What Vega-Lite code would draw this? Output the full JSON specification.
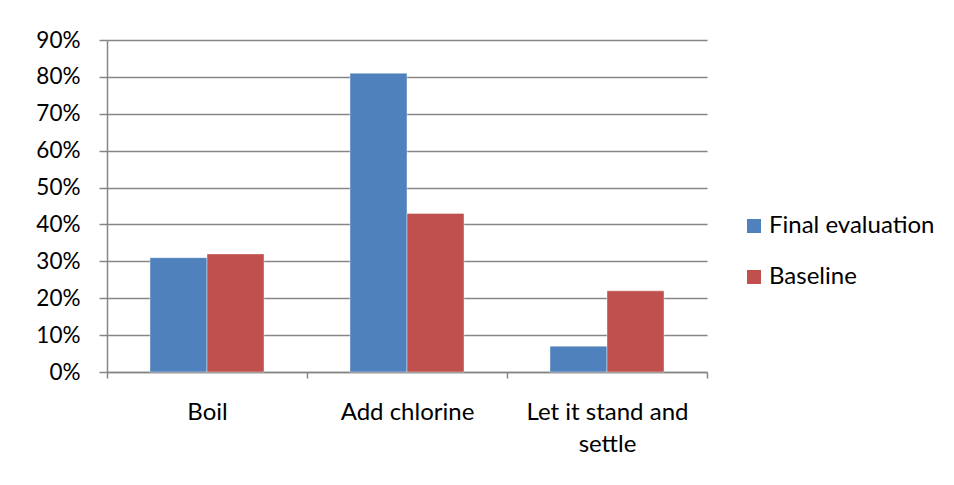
{
  "$schema": "https://vega.github.io/schema/vega-lite/v6.json",
  "width": 600,
  "height": 332,
  "autosize": {"type": "none"},
  "padding": {"left": 107, "top": 40, "right": 247, "bottom": 113},
  "background": "white",
  "data": {
    "values": [
      {"method": "Boil", "series": "Final evaluation", "share": 0.31},
      {"method": "Boil", "series": "Baseline", "share": 0.32},
      {"method": "Add chlorine", "series": "Final evaluation", "share": 0.81},
      {"method": "Add chlorine", "series": "Baseline", "share": 0.43},
      {"method": "Let it stand and settle", "series": "Final evaluation", "share": 0.07},
      {"method": "Let it stand and settle", "series": "Baseline", "share": 0.22}
    ]
  },
  "mark": {"type": "bar", "stroke": "#ffffff", "strokeOpacity": 0.5, "strokeWidth": 0.8},
  "encoding": {
    "x": {
      "field": "method",
      "type": "nominal",
      "sort": null,
      "title": null,
      "scale": {"paddingInner": 0, "paddingOuter": 0},
      "axis": {
        "labelAngle": 0,
        "labelFontSize": 24,
        "tickBand": "extent",
        "tickSize": 6,
        "labelPadding": 22,
        "labelLineHeight": 32,
        "labelExpr": "datum.label == 'Let it stand and settle' ? ['Let it stand and', 'settle'] : datum.label"
      }
    },
    "xOffset": {
      "field": "series",
      "type": "nominal",
      "sort": ["Final evaluation", "Baseline"],
      "scale": {"paddingInner": 0, "paddingOuter": 0.754}
    },
    "y": {
      "field": "share",
      "type": "quantitative",
      "title": null,
      "scale": {"domain": [0, 0.9], "nice": false},
      "axis": {
        "format": ".0%",
        "labelFontSize": 22.5,
        "values": [0, 0.1, 0.2, 0.3, 0.4, 0.5, 0.6, 0.7, 0.8, 0.9],
        "tickSize": 8,
        "labelPadding": 19,
        "grid": true
      }
    },
    "color": {
      "field": "series",
      "type": "nominal",
      "sort": ["Final evaluation", "Baseline"],
      "scale": {"domain": ["Final evaluation", "Baseline"], "range": ["#4f81bd", "#c0504d"]},
      "legend": {
        "title": null,
        "orient": "none",
        "legendX": 635,
        "legendY": 174,
        "symbolType": "square",
        "symbolSize": 196,
        "symbolStrokeWidth": 0,
        "symbolOpacity": 1,
        "labelOffset": 3,
        "labelLimit": 300,
        "rowPadding": 27
      }
    }
  },
  "config": {
    "font": "Lato",
    "view": {"stroke": null},
    "axis": {
      "labelFont": "Lato",
      "labelColor": "#000000",
      "domainColor": "#868686",
      "domainWidth": 1.5,
      "tickColor": "#868686",
      "tickWidth": 1.5,
      "gridColor": "#868686",
      "gridWidth": 1.4
    },
    "legend": {
      "labelFont": "Lato",
      "labelFontSize": 24,
      "labelColor": "#000000"
    }
  }
}
